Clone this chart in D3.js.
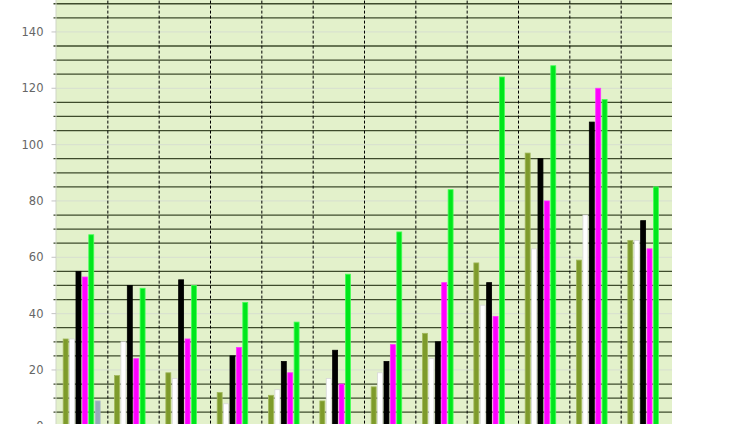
<!DOCTYPE html>
<html><head><meta charset="utf-8">
<script src="https://cdn.jsdelivr.net/npm/d3@7"></script>
<style>body{margin:0;background:#fff}svg{display:block}</style>
</head><body>
<svg id="c" width="754" height="424"></svg>
<script>
const groups = ["1","2","3","4","5","6","7","8","9","10","11","12"];
const seriesNames = ["olive","white","black","magenta","green","slate"];
const olive   = [31,18,19,12,11,9,14,33,58,97,59,66];
const white   = [31,30,17,8,13,17,19,24,43,63,75,66];
const black   = [55,50,52,25,23,27,23,30,51,95,108,73];
const magenta = [53,24,31,28,19,15,29,51,39,80,120,63];
const green   = [68,49,50,44,37,54,69,84,124,128,116,85];
const slate   = [9,0,0,0,0,0,0,0,0,0,0,0];
const yTicks  = [0,20,40,60,80,100,120,140];

const seriesData = [olive, white, black, magenta, green, slate];
const fills   = ["#7e9b2b","#ffffff","#000000","#ff00ff","#00e61c","#97a9b9"];
const strokes = ["#a2b85c","#d8d8d8","#000000","#ff33ff","#44ff55","#a9b9c6"];

const svg = d3.select("#c");
const x0 = 56, x1 = 672;
const y = d3.scaleLinear().domain([0,160]).range([426.3, -24.4]);
const xg = d3.scaleBand().domain(groups).range([x0,x1]).padding(0);
const xs = d3.scaleBand().domain(seriesNames).range([0, xg.bandwidth()]).paddingInner(0.1).paddingOuter(1.06);

// background
svg.append("rect").attr("x",x0).attr("y",y(160)).attr("width",x1-x0).attr("height",y(0)-y(160)).attr("fill","#e3f1cb");

// major gridlines (light)
const majors = d3.range(0,161,20);
svg.append("g").selectAll("line").data(majors).join("line")
  .attr("x1",x0).attr("x2",x1).attr("y1",d=>y(d)).attr("y2",d=>y(d))
  .attr("stroke","#d9e2cf").attr("stroke-width",1.2);

// minor lines (dark)
const minors = d3.range(0,161,5).filter(v=>v%20!==0);
svg.append("g").selectAll("line").data(minors).join("line")
  .attr("x1",53.5).attr("x2",x1).attr("y1",d=>y(d)).attr("y2",d=>y(d))
  .attr("stroke","#3e4b2c").attr("stroke-width",1.3);

// vertical dashed separators
svg.append("g").selectAll("line").data(groups.slice(1)).join("line")
  .attr("x1",d=>xg(d)+0.5).attr("x2",d=>xg(d)+0.5).attr("y1",y(160)).attr("y2",y(0))
  .attr("stroke","#000").attr("stroke-width",1).attr("stroke-dasharray","3,2");

// left axis line
svg.append("line").attr("x1",x0).attr("x2",x0).attr("y1",y(160)).attr("y2",y(0))
  .attr("stroke","#cfd6c6").attr("stroke-width",1);

// y axis ticks & labels
const ya = svg.append("g");
ya.selectAll("line").data(yTicks).join("line")
  .attr("x1",51.5).attr("x2",56).attr("y1",d=>y(d)).attr("y2",d=>y(d))
  .attr("stroke","#c4c4c4").attr("stroke-width",1);
ya.selectAll("text").data(yTicks).join("text")
  .attr("x",43.5).attr("y",d=>y(d)).attr("dy","0.36em")
  .attr("text-anchor","end").attr("fill","#666")
  .attr("font-family","DejaVu Sans, Verdana, sans-serif").attr("font-size",11.5)
  .text(d=>d);

// bars
seriesNames.forEach((s,si)=>{
  svg.append("g").selectAll("rect").data(groups.map((g,gi)=>({g,v:seriesData[si][gi]})).filter(d=>d.v>0))
    .join("rect")
    .attr("x",d=>xg(d.g)+xs(s)+0.4)
    .attr("y",d=>y(d.v))
    .attr("width",xs.bandwidth()-0.8)
    .attr("height",d=>y(0)-y(d.v))
    .attr("fill",fills[si])
    .attr("stroke",strokes[si]).attr("stroke-width",0.8);
});
</script>
</body></html>
